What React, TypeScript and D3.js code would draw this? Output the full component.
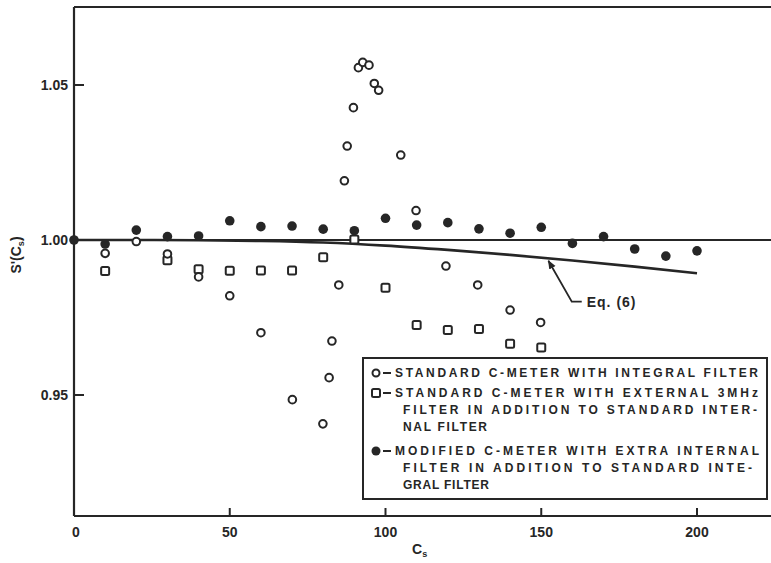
import React from "react";
import * as d3 from "d3";

// Cs values for the modified meter (filled dots)
const modifiedCs = [0, 10, 20, 30, 40, 50, 60, 70, 80, 90, 100, 110, 120, 130, 140, 150, 160, 170, 180, 190, 200];
const modifiedVals = [1.0, 0.9987, 1.0032, 1.0011, 1.0013, 1.0062, 1.0043, 1.0045, 1.0035, 1.003, 1.007, 1.0048, 1.0056, 1.0036, 1.0022, 1.0041, 0.9989, 1.0011, 0.9971, 0.9948, 0.9965];

// standard meter with integral filter (open circles)
const integralCs = [10, 20, 30, 40, 50, 60, 70.1, 79.9, 81.9, 82.8, 85, 86.8, 87.7, 89.7, 91.3, 92.7, 94.7, 96.4, 97.8, 104.9, 109.8, 119.4, 129.6, 140, 149.8];
const integralVals = [0.9957, 0.9995, 0.9955, 0.9881, 0.982, 0.9701, 0.9485, 0.9407, 0.9556, 0.9674, 0.9855, 1.0191, 1.0303, 1.0427, 1.0556, 1.0573, 1.0564, 1.0505, 1.0483, 1.0274, 1.0095, 0.9916, 0.9855, 0.9774, 0.9734];

// standard meter with external 3MHz filter (open squares)
const externalCs = [10, 30, 40, 50, 60, 70, 80, 90, 100, 110, 120, 130, 140, 150];
const externalVals = [0.99, 0.9935, 0.9906, 0.9901, 0.9902, 0.9902, 0.9944, 1.0002, 0.9846, 0.9726, 0.971, 0.9713, 0.9665, 0.9653];

// Eq. (6) curve
const eqCs = [0, 20, 40, 60, 80, 100, 120, 140, 160, 180, 200];
const eqVals = [1.0, 1.0, 0.9999, 0.9997, 0.9992, 0.9982, 0.9968, 0.9952, 0.9934, 0.9914, 0.9893];

const xTicks = [50, 100, 150, 200];
const yTicks = [0.95, 1.0, 1.05];

const legendEntries = [
  { marker: "circle", lines: ["STANDARD C-METER WITH INTEGRAL FILTER"], widths: [363] },
  {
    marker: "square",
    lines: ["STANDARD C-METER WITH EXTERNAL 3MHz", "FILTER IN ADDITION TO STANDARD INTER-", "NAL FILTER"],
    widths: [363, 354, 84],
  },
  {
    marker: "dot",
    lines: ["MODIFIED C-METER WITH EXTRA INTERNAL", "FILTER IN ADDITION TO STANDARD INTE-", "GRAL FILTER"],
    widths: [364, 349, 86],
  },
];

const W = 771;
const H = 563;
const FONT = "'Liberation Sans', Arial, sans-serif";
const INK = "#262626";

export default function App() {
  const x = d3.scaleLinear().domain([0, 200]).range([74, 697]);
  const y = d3.scaleLinear().domain([0.95, 1.05]).range([395, 85]);
  const top = 7;
  const bottom = 516;
  const x0 = x(0);

  const eqLine = d3
    .line<number>()
    .x((d, i) => x(eqCs[i]))
    .y((d) => y(d))
    .curve(d3.curveMonotoneX);

  // annotation pointer for Eq. (6), in data units
  const tip = [152.3, 0.9933];
  const elbow = [159.8, 0.9801];
  const elbowEnd = 163.0;

  const legendTop = [373, 393, 451];

  return (
    <svg width={W} height={H} style={{ position: "absolute", left: 0, top: 0, background: "#fff" }}>
      <defs>
        <marker id="arr" viewBox="0 0 10 10" refX="9" refY="5" markerWidth="5" markerHeight="6" orient="auto">
          <path d="M0,1 L10,5 L0,9 z" fill={INK} />
        </marker>
      </defs>

      {/* frame */}
      <line x1={x0} x2={W} y1={top} y2={top} stroke={INK} strokeWidth={2} />
      <line x1={x0} x2={x0} y1={top} y2={bottom} stroke={INK} strokeWidth={2.2} />
      <line x1={x0} x2={W} y1={bottom} y2={bottom} stroke={INK} strokeWidth={2} />

      {/* y ticks */}
      {yTicks.map((t) => (
        <g key={t}>
          <line x1={x0} x2={x0 + 10} y1={y(t)} y2={y(t)} stroke={INK} strokeWidth={2} />
          <text x={68} y={y(t)} dy="0.36em" textAnchor="end" fontFamily={FONT} fontWeight="bold" fontSize={14} fill={INK}>
            {t.toFixed(2)}
          </text>
        </g>
      ))}

      {/* x ticks */}
      {xTicks.map((t) => (
        <g key={t}>
          <line x1={x(t)} x2={x(t)} y1={bottom} y2={bottom - 8} stroke={INK} strokeWidth={2} />
          <text x={x(t)} y={537} textAnchor="middle" fontFamily={FONT} fontWeight="bold" fontSize={14} fill={INK}>
            {t}
          </text>
        </g>
      ))}
      <text x={x0 + 2} y={537} textAnchor="middle" fontFamily={FONT} fontWeight="bold" fontSize={14} fill={INK}>
        0
      </text>

      {/* axis titles */}
      <text x={412} y={554} fontFamily={FONT} fontWeight="bold" fontSize={14} fill={INK}>
        C<tspan fontSize={9} dy={3}>s</tspan>
      </text>
      <text
        transform={`translate(21,255) rotate(-90)`}
        textAnchor="middle"
        fontFamily={FONT}
        fontWeight="bold"
        fontSize={14}
        fill={INK}
      >
        S'(C<tspan fontSize={9} dy={3}>s</tspan>
        <tspan dy={-3}>)</tspan>
      </text>

      {/* reference line at 1.00 */}
      <line x1={x0} x2={W} y1={y(1)} y2={y(1)} stroke={INK} strokeWidth={2} />

      {/* Eq. (6) */}
      <path d={eqLine(eqVals) || ""} fill="none" stroke={INK} strokeWidth={2.6} />
      <path
        d={`M${x(elbowEnd)},${y(elbow[1])} L${x(elbow[0])},${y(elbow[1])} L${x(tip[0])},${y(tip[1])}`}
        fill="none"
        stroke={INK}
        strokeWidth={1.8}
        markerEnd="url(#arr)"
      />
      <text x={x(elbowEnd) + 5} y={y(elbow[1])} dy="0.36em" fontFamily={FONT} fontWeight="bold" fontSize={14} fill={INK} letterSpacing={1}>
        Eq. (6)
      </text>

      {/* squares */}
      {externalCs.map((c, i) => (
        <rect
          key={"s" + i}
          x={x(c) - 4}
          y={y(externalVals[i]) - 4}
          width={8}
          height={8}
          rx={1.5}
          fill="#fff"
          stroke={INK}
          strokeWidth={2}
        />
      ))}
      {/* open circles */}
      {integralCs.map((c, i) => (
        <circle key={"o" + i} cx={x(c)} cy={y(integralVals[i])} r={3.8} fill="#fff" stroke={INK} strokeWidth={2} />
      ))}
      {/* filled dots */}
      {modifiedCs.map((c, i) => (
        <circle key={"f" + i} cx={x(c)} cy={y(modifiedVals[i])} r={4.8} fill={INK} />
      ))}

      {/* legend */}
      <rect x={363} y={358} width={404} height={141} fill="#fff" stroke={INK} strokeWidth={2} />
      {legendEntries.map((e, k) => (
        <g key={k}>
          {e.marker === "circle" && <circle cx={376} cy={legendTop[k]} r={3.5} fill="#fff" stroke={INK} strokeWidth={2} />}
          {e.marker === "square" && (
            <rect x={372} y={legendTop[k] - 4} width={8} height={8} rx={1.5} fill="#fff" stroke={INK} strokeWidth={2} />
          )}
          {e.marker === "dot" && <circle cx={376} cy={legendTop[k]} r={4.5} fill={INK} />}
          <line x1={383} x2={391} y1={legendTop[k]} y2={legendTop[k]} stroke={INK} strokeWidth={2} />
          {e.lines.map((ln, j) => (
            <text
              key={j}
              x={j === 0 ? 395 : 403}
              y={legendTop[k] + j * 17}
              dy="0.36em"
              fontFamily={FONT}
              fontWeight="bold"
              fontSize={12}
              fill={INK}
              textLength={e.widths[j]}
              lengthAdjust="spacing"
            >
              {ln}
            </text>
          ))}
        </g>
      ))}
    </svg>
  );
}
